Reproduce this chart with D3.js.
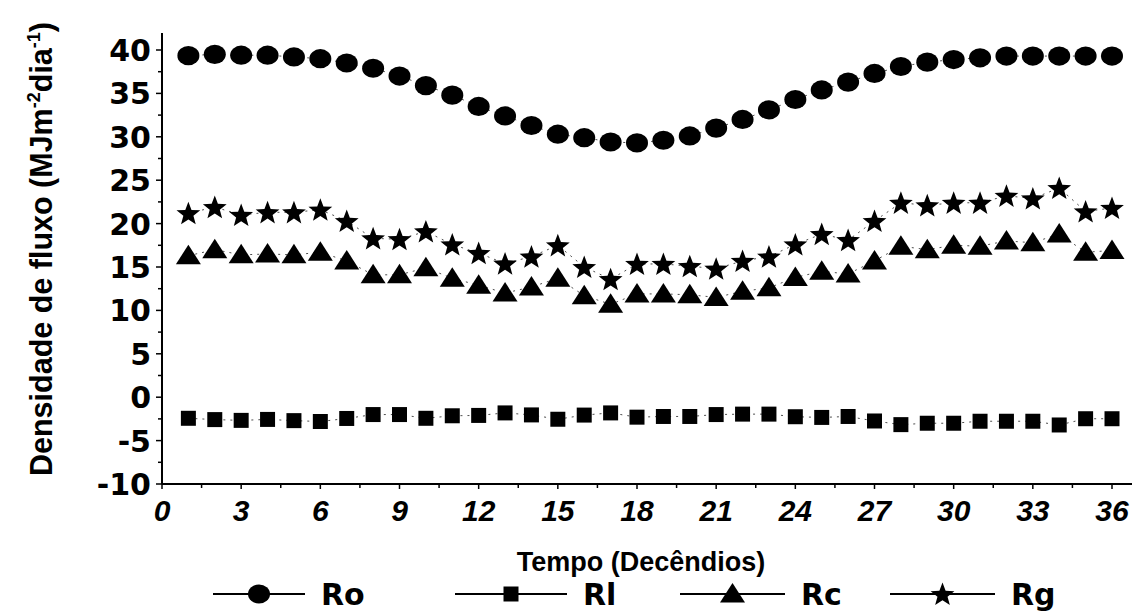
<!DOCTYPE html>
<html><head><meta charset="utf-8">
<script src="https://cdn.jsdelivr.net/npm/d3@7"></script>
<style>
html,body{margin:0;padding:0;background:#fff;}
text{font-family:"Liberation Sans",Arial,sans-serif;font-weight:bold;fill:#000;}
</style></head>
<body>
<svg id="chart" width="1132" height="612"></svg>
<script>
const decendios = d3.range(1, 37);
const Ro = [39.35,39.5,39.4,39.4,39.2,39.0,38.5,37.9,37.0,35.9,34.8,33.5,32.4,31.3,30.3,29.9,29.4,29.3,29.6,30.1,31.0,32.0,33.1,34.3,35.4,36.3,37.3,38.1,38.6,38.9,39.1,39.3,39.3,39.3,39.3,39.3];
const Rl = [-2.43,-2.58,-2.67,-2.56,-2.7,-2.8,-2.45,-2.0,-2.0,-2.43,-2.14,-2.1,-1.81,-2.04,-2.54,-2.06,-1.81,-2.3,-2.22,-2.22,-2.0,-1.95,-1.95,-2.25,-2.33,-2.22,-2.74,-3.16,-3.0,-3.0,-2.77,-2.77,-2.77,-3.2,-2.48,-2.48];
const Rc = [16.3,17.0,16.4,16.5,16.4,16.7,15.7,14.1,14.1,14.9,13.7,12.9,12.0,12.7,13.7,11.7,10.7,11.9,11.9,11.8,11.5,12.2,12.6,13.8,14.5,14.2,15.7,17.4,17.0,17.5,17.4,18.0,17.8,18.8,16.7,16.9];
const Rg = [21.2,21.9,21.0,21.3,21.3,21.6,20.3,18.3,18.2,19.1,17.6,16.6,15.4,16.2,17.5,15.0,13.6,15.35,15.35,15.1,14.8,15.7,16.2,17.6,18.8,18.1,20.3,22.4,22.1,22.4,22.4,23.2,22.9,24.1,21.4,21.8];
const xTicks = [0,3,6,9,12,15,18,21,24,27,30,33,36];
const yTicks = [-10,-5,0,5,10,15,20,25,30,35,40];
const seriesNames = ["Ro","Rl","Rc","Rg"];
const seriesShapes = ["circle","square","triangle","star"];
const xTitle = "Tempo (Decêndios)";

const svg = d3.select("#chart");
const x = d3.scaleLinear().domain([0, 36]).range([162, 1112]);
const y = d3.scaleLinear().domain([-10, 40]).range([484, 50]);

function shapePath(shape) {
  if (shape === "square") return "M-7.5,-7.5H7.5V7.5H-7.5Z";
  if (shape === "triangle") return "M0,-11L12.5,8.5L-12.5,8.5Z";
  if (shape === "star") {
    const pts = [];
    for (let i = 0; i < 10; i++) {
      const r = i % 2 === 0 ? 12.5 : 5.3;
      const a = -Math.PI / 2 + i * Math.PI / 5;
      pts.push([r * Math.cos(a), r * Math.sin(a) + 1]);
    }
    return "M" + pts.map(p => p.join(",")).join("L") + "Z";
  }
  return null;
}
function drawMarker(g, shape) {
  if (shape === "circle") {
    g.append("ellipse").attr("rx", 11).attr("ry", 9.6).attr("fill", "#000");
  } else {
    g.append("path").attr("d", shapePath(shape)).attr("fill", "#000");
  }
}

// axes
const xAxisG = svg.append("g");
xAxisG.append("line").attr("x1", x(0)).attr("x2", 1132).attr("y1", y(-10)).attr("y2", y(-10))
  .attr("stroke", "#000").attr("stroke-width", 2);
const xMinor = d3.range(0, 37.5, 1.5);
xAxisG.selectAll("line.t").data(xMinor).join("line")
  .attr("x1", d => x(d)).attr("x2", d => x(d))
  .attr("y1", y(-10)).attr("y2", d => y(-10) + (d % 3 === 0 ? 5 : 4))
  .attr("stroke", "#000").attr("stroke-width", 1.5);
xAxisG.selectAll("text").data(xTicks).join("text")
  .attr("x", d => x(d)).attr("y", 521)
  .attr("text-anchor", "middle").attr("font-size", 30).attr("font-style", "italic")
  .text(d => d);

const yAxisG = svg.append("g");
yAxisG.append("line").attr("x1", x(0)).attr("x2", x(0)).attr("y1", y(-10)).attr("y2", 33)
  .attr("stroke", "#000").attr("stroke-width", 2);
const yMinor = d3.range(-10, 42.5, 2.5);
yAxisG.selectAll("line.t").data(yMinor).join("line")
  .attr("x1", x(0)).attr("x2", d => x(0) - (d % 5 === 0 ? 6 : 4))
  .attr("y1", d => y(d)).attr("y2", d => y(d))
  .attr("stroke", "#000").attr("stroke-width", 1.5);
yAxisG.selectAll("text").data(yTicks).join("text")
  .attr("x", 151).attr("y", d => y(d) + 11)
  .attr("text-anchor", "end").attr("font-size", 30)
  .style("font-family", "'DejaVu Sans',sans-serif")
  .text(d => d);

// titles
svg.append("text").attr("x", 641).attr("y", 571).attr("text-anchor", "middle")
  .attr("font-size", 27).text(xTitle);
const yt = svg.append("text").attr("transform", "translate(52,249) rotate(-90)")
  .attr("text-anchor", "middle").attr("font-size", 30.5);
yt.append("tspan").text("Densidade de fluxo (MJm");
yt.append("tspan").attr("dy", -12).attr("font-size", 18).text("-2");
yt.append("tspan").attr("dy", 12).text("dia");
yt.append("tspan").attr("dy", -12).attr("font-size", 18).text("-1");
yt.append("tspan").attr("dy", 12).text(")");

// series (thin, faint connecting lines as in the scanned original)
const seriesData = [Ro, Rl, Rc, Rg];
const line = d3.line().x((d, i) => x(decendios[i])).y(d => y(d));
seriesData.forEach((vals, si) => {
  svg.append("path").attr("d", line(vals)).attr("fill", "none")
    .attr("stroke", "#000").attr("stroke-width", 0.7).attr("stroke-dasharray", "2,5");
  const g = svg.append("g");
  vals.forEach((v, i) => {
    const m = g.append("g").attr("transform", `translate(${x(decendios[i])},${y(v)})`);
    drawMarker(m, seriesShapes[si]);
  });
});

// legend
const legendX = [213, 455, 680, 890];
const legendLen = [92, 112, 105, 105];
const legY = 594;
seriesNames.forEach((name, i) => {
  const lg = svg.append("g").attr("transform", `translate(${legendX[i]},${legY})`);
  lg.append("line").attr("x1", 0).attr("x2", legendLen[i]).attr("y1", 0).attr("y2", 0)
    .attr("stroke", "#000").attr("stroke-width", 2);
  const m = lg.append("g").attr("transform", `translate(${legendLen[i] / 2},0)`);
  drawMarker(m, seriesShapes[i]);
  lg.append("text").attr("x", legendLen[i] + 16).attr("y", 11).attr("font-size", 30)
    .style("font-family", "'DejaVu Sans',sans-serif").text(name);
});
</script>
</body></html>
